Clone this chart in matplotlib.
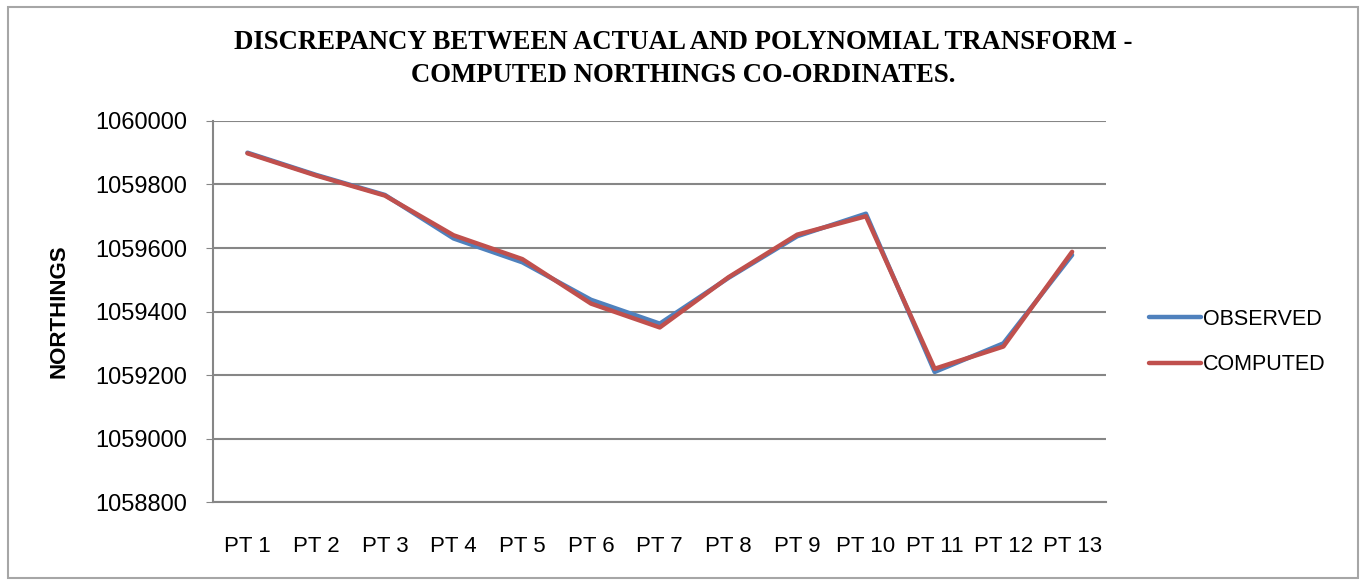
import matplotlib.pyplot as plt
from matplotlib.patches import Rectangle

# Point names and northings
points = ["PT 1", "PT 2", "PT 3", "PT 4", "PT 5", "PT 6", "PT 7",
          "PT 8", "PT 9", "PT 10", "PT 11", "PT 12", "PT 13"]
observed = [1059900, 1059830, 1059767, 1059630, 1059555, 1059437, 1059362,
            1059506, 1059637, 1059708, 1059210, 1059300, 1059578]
computed = [1059898, 1059828, 1059765, 1059640, 1059565, 1059425, 1059350,
            1059508, 1059642, 1059700, 1059220, 1059290, 1059588]
y_ticks = [1058800, 1059000, 1059200, 1059400, 1059600, 1059800, 1060000]

plt.rcParams['font.family'] = ['Liberation Sans', 'DejaVu Sans']

fig = plt.figure(figsize=(13.66, 5.84), dpi=100)
ax = fig.add_axes([0.156, 0.140, 0.654, 0.653])

x = list(range(len(points)))
ax.plot(x, observed, color='#4F81BD', linewidth=3.2, label='OBSERVED',
        solid_capstyle='round', zorder=3)
ax.plot(x, computed, color='#C0504D', linewidth=3.2, label='COMPUTED',
        solid_capstyle='round', zorder=4)

ax.set_xlim(-0.5, len(points) - 0.5)
ax.set_ylim(1058800, 1060000)
ax.set_yticks(y_ticks)
ax.set_yticklabels([str(v) for v in y_ticks], fontsize=17)
ax.set_xticks(x)
ax.set_xticklabels(points, fontsize=16)
ax.tick_params(axis='x', length=0, pad=24)
ax.tick_params(axis='y', length=5, color='#868686', pad=13.5)

# horizontal gridlines only
ax.grid(axis='y', color='#868686', linewidth=1.5)
ax.set_axisbelow(True)
for side in ['top', 'right']:
    ax.spines[side].set_visible(False)
ax.spines['left'].set_color('#868686')
ax.spines['bottom'].set_color('#868686')
ax.spines['left'].set_linewidth(1.5)
ax.spines['bottom'].set_linewidth(1.5)

ax.set_ylabel('NORTHINGS', fontsize=16, fontweight='bold', labelpad=19)

fig.text(0.5, 0.899, 'DISCREPANCY BETWEEN ACTUAL AND POLYNOMIAL TRANSFORM -\n'
         'COMPUTED NORTHINGS CO-ORDINATES.',
         ha='center', va='center', fontsize=19.3, fontweight='bold',
         family='Liberation Serif', linespacing=1.4)

ax.legend(loc='center left', bbox_to_anchor=(1.026, 0.42), frameon=False,
          fontsize=15.5, handlelength=2.4, handletextpad=0.1,
          labelspacing=1.15)

# outer chart border
fig.patches.append(Rectangle((0.006, 0.011), 0.988, 0.977,
                             transform=fig.transFigure, fill=False,
                             edgecolor='#a6a6a6', linewidth=1.5))

fig.savefig('out.png', dpi=100)
